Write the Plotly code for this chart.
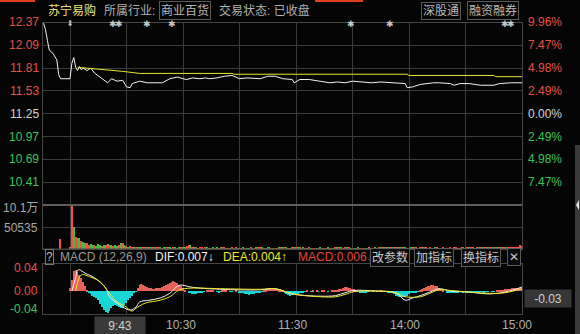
import plotly.graph_objects as go

W, H = 580, 334
def px(x): return x / W
def py(y): return 1 - y / H

FONT = "Liberation Sans, Noto Sans CJK SC, sans-serif"
RED, GREEN, WHITE, GREY = "#e2504a", "#3fc25c", "#d2d2d2", "#a8a8a8"
GRID = "#3b3b3b"

# ---------------- data (minutes since 09:30 on the trading clock; negative = call auction) -------------
price_t = [-14, -13, -12, -11, -9, -7, -6, -5, 0, 1, 2, 3, 4, 5, 6, 7, 9, 11, 13, 17, 20, 22, 25, 28, 30, 32,
           33, 37, 41, 44, 49, 53, 57, 60, 62, 65, 69, 72, 74, 78, 82, 86, 90, 94, 98, 101, 105, 109, 113, 118,
           119, 122, 127, 133, 138, 142, 146, 150, 154, 160, 165, 170, 175, 178, 179, 182, 186, 189, 193, 196,
           202, 204, 207, 212, 218, 225, 228, 234, 240]
price = [12.36, 12.28, 12.15, 12.03, 11.99, 11.91, 11.73, 11.68, 11.68, 11.87, 11.94, 11.82, 11.78, 11.83,
         11.79, 11.81, 11.78, 11.81, 11.75, 11.68, 11.63, 11.68, 11.65, 11.66, 11.58, 11.57, 11.62, 11.65,
         11.63, 11.63, 11.63, 11.68, 11.70, 11.68, 11.67, 11.69, 11.68, 11.69, 11.68, 11.69, 11.71, 11.72,
         11.68, 11.69, 11.68, 11.68, 11.71, 11.71, 11.68, 11.67, 11.63, 11.67, 11.67, 11.65, 11.63, 11.64,
         11.63, 11.65, 11.64, 11.63, 11.64, 11.63, 11.62, 11.62, 11.57, 11.58, 11.61, 11.62, 11.63, 11.63,
         11.62, 11.60, 11.62, 11.62, 11.60, 11.60, 11.62, 11.63, 11.63]

avg_t = [4, 15, 28, 37, 86, 87, 179, 180, 225, 226, 240]
avg_price = [11.82, 11.80, 11.77, 11.745, 11.745, 11.735, 11.735, 11.72, 11.72, 11.705, 11.705]

prev_close = 11.25
price_ticks = [12.37, 12.09, 11.81, 11.53, 11.25, 10.97, 10.69, 10.41]
pct_labels = ["9.96%", "7.47%", "4.98%", "2.49%", "0.00%", "2.49%", "4.98%", "7.47%"]

# volume in thousand shares, one per minute 0..240; plus the auction print
auction_t, auction_vol = [-5], [23.0]
volume_k = [
    3.0, 101.07, 50.5, 27.0, 25.0, 25.0, 18.0, 16.0, 14.0, 14.0, 9.0, 11.5, 9.0, 10.0, 8.0, 11.0, 9.5, 8.0, 10.0, 9.0,
    11.0, 8.5, 9.0, 7.5, 10.0, 8.0, 9.0, 14.0, 13.0, 9.0, 7.0, 5.5, 6.0, 4.5, 5.0, 4.0, 3.5, 4.5, 3.0, 3.5,
    3.2, 2.8, 4.1, 3.5, 2.6, 3.0, 2.4, 3.8, 2.9, 2.2, 3.1, 2.7, 3.4, 2.5, 2.0, 2.9, 3.6, 2.3, 2.8, 3.0,
    2.6, 4.5, 6.0, 8.5, 9.0, 5.2, 3.4, 2.5, 2.1, 2.8, 2.4, 1.9, 2.6, 3.1, 2.2, 1.8, 2.4, 2.0, 2.7, 2.3,
    2.9, 3.3, 2.5, 2.0, 1.7, 2.2, 2.6, 1.9, 2.4, 2.1, 1.8, 2.3, 2.7, 2.0, 1.6, 2.2, 2.5, 1.9, 2.1, 2.8,
    2.4, 3.0, 2.6, 2.2, 1.8, 2.5, 2.9, 2.1, 1.7, 2.3, 2.0, 2.6, 3.2, 2.4, 2.8, 3.5, 2.2, 1.9, 2.6, 4.0,
    3.6, 2.8, 2.4, 2.0, 2.5, 1.8, 2.2, 2.7, 1.9, 2.3, 2.0, 1.6, 2.1, 2.5, 1.8, 2.2, 1.9, 2.4, 2.0, 1.7,
    2.3, 2.6, 2.9, 3.1, 2.5, 2.0, 2.8, 3.3, 2.4, 2.1, 1.9, 2.2, 1.8, 2.5, 2.0, 1.7, 2.3, 2.1, 1.9, 2.6,
    2.2, 1.8, 2.4, 2.0, 2.6, 2.9, 3.2, 2.7, 3.5, 3.9, 3.1, 2.6, 2.8, 3.0, 3.6, 4.2, 3.4, 2.9, 2.5, 2.2,
    2.0, 2.4, 2.7, 3.1, 2.6, 2.2, 2.9, 3.3, 2.8, 2.4, 2.1, 2.6, 2.3, 2.0, 2.5, 2.8, 2.2, 1.9, 2.4, 2.1,
    1.8, 2.3, 2.6, 2.0, 2.4, 2.9, 2.2, 1.9, 2.5, 2.7, 2.1, 2.4, 2.8, 3.0, 2.6, 2.2, 2.5, 2.9, 3.2, 2.7,
    2.4, 2.9, 3.3, 2.8, 3.5, 3.1, 2.7, 3.4, 3.8, 3.2, 2.9, 3.6, 4.1, 3.5, 3.9, 4.4, 3.7, 4.8, 5.5, 9.0, 6.0]
# r = up minute, g = down minute
volume_dir = ("rrgrrgrggrrggrgggrgrgrgrggrgrgrgrrgrg"
              "rgrrgrgrgrrgrgrggrrgrgrggrrgrgrgrrgrggrg"
              "rgrgrrgrgrgrrgrgrggrgrgrrgrgrgrgrrgrgrgr"
              "grgrgrrgrgrgrrgrgrgrgrggrgrgrrgrgrgrgrrg"
              "rgrgrgrrgrgrgrgrgrrgrgrggrgrgrgrrgrgrgrr"
              "grgrgrgrrgrgrgrgrrgrgrgrgrrgrrgrgrrgrrrrrrrr")

macd_hist = [
    0.005, 0.020, 0.034, 0.036, 0.033, 0.028, 0.022, 0.016, 0.008, 0.002,
    -0.004, -0.006, -0.008, -0.010, -0.012, -0.016, -0.022, -0.028, -0.033, -0.036,
    -0.038, -0.035, -0.030, -0.026, -0.024, -0.026, -0.028, -0.030, -0.030, -0.025,
    -0.020, -0.016, -0.012, -0.008, -0.004, -0.001, 0.006, 0.010, 0.012, 0.011,
    0.009, 0.007, 0.006, 0.005, 0.004, 0.004, 0.005, 0.006, 0.006, 0.007,
    0.008, 0.010, 0.012, 0.014, 0.016, 0.017, 0.016, 0.014, 0.011, 0.008,
    0.005, 0.002, 0.000, -0.002, -0.004, -0.005, -0.006, -0.005, -0.004, -0.003,
    -0.002, -0.001, 0.000, 0.001, 0.002, 0.002, 0.001, 0.000, -0.001, -0.002,
    -0.001, 0.001, 0.002, 0.001, 0.000, -0.001, -0.001, 0.000, 0.001, 0.000,
    -0.002, -0.003, -0.004, -0.005, -0.006, -0.007, -0.006, -0.006, -0.005, -0.004,
    -0.003, -0.002, -0.001, 0.002, 0.003, 0.004, 0.005, 0.005, 0.004, 0.005,
    0.004, 0.003, 0.002, 0.001, -0.003, -0.005, -0.007, -0.008, -0.007, -0.006,
    -0.006, -0.005, -0.004, -0.003, -0.002, -0.001, 0.001, 0.000, -0.001, 0.001,
    0.000, 0.001, -0.001, 0.000, 0.001, 0.001, 0.000, -0.001, 0.000, 0.001,
    0.001, 0.002, 0.002, 0.003, 0.004, 0.006, 0.007, 0.007, 0.006, 0.005,
    0.004, 0.003, 0.001, -0.001, -0.002, -0.003, -0.002, -0.002, -0.001, -0.001,
    0.000, 0.001, 0.000, -0.001, 0.000, 0.001, 0.000, -0.001, -0.001, -0.002,
    -0.002, -0.004, -0.006, -0.008, -0.009, -0.010, -0.011, -0.011, -0.010, -0.008,
    -0.006, -0.004, -0.003, -0.002, -0.002, -0.001, 0.001, 0.003, 0.005, 0.007,
    0.008, 0.009, 0.010, 0.010, 0.009, 0.008, 0.006, 0.004, 0.002, 0.000,
    -0.002, -0.003, -0.003, -0.004, -0.003, -0.002, -0.002, -0.001, -0.001, -0.002,
    -0.001, -0.002, -0.001, -0.002, -0.002, -0.001, -0.001, -0.002, -0.001, -0.001,
    -0.002, -0.001, -0.001, 0.000, -0.001, -0.001, 0.000, 0.001, 0.001, 0.002,
    0.002, 0.003, 0.003, 0.004, 0.004, 0.005, 0.005, 0.006, 0.006, 0.006, 0.006]

dif_t = [1, 3, 4, 5, 8, 13, 19, 21, 25, 28, 32, 35, 37, 42, 48, 53, 58, 64, 69, 80, 90, 101, 109, 117, 122,
         133, 141, 146, 151, 162, 173, 178, 182, 186, 191, 196, 202, 212, 223, 231, 240]
dif = [0.000, 0.023, 0.036, 0.037, 0.031, 0.023, 0.005, -0.010, -0.021, -0.028, -0.033, -0.028, -0.019, -0.016,
       -0.012, -0.004, 0.010, 0.007, 0.005, 0.003, 0.002, 0.002, 0.004, -0.004, -0.007, -0.009, -0.008, -0.003,
       0.001, 0.000, -0.003, -0.016, -0.012, -0.008, -0.002, 0.004, 0.000, -0.002, -0.005, -0.002, 0.007]
dea_t = [3, 6, 11, 16, 21, 25, 29, 33, 35, 40, 48, 53, 58, 64, 80, 101, 109, 117, 122, 133, 141, 146, 151,
         162, 173, 178, 186, 191, 196, 202, 212, 223, 231, 240]
dea = [0.000, 0.028, 0.024, 0.016, -0.004, -0.019, -0.026, -0.035, -0.030, -0.021, -0.016, -0.010, 0.002,
       0.005, 0.004, 0.003, 0.004, -0.004, -0.007, -0.010, -0.010, -0.006, -0.001, 0.000, -0.003, -0.010,
       -0.010, -0.004, 0.002, 0.001, -0.002, -0.004, -0.003, 0.004]

event_t = [23, 26, 41, 54, 149, 170, 231, 234]
arrow_t = [0]

time_ticks = [-15, 60, 120, 180, 240]
time_labels = ["06/24", "10:30", "11:30", "14:00", "15:00"]
cursor_t, cursor_label = 13, "9:43"

# ---------------- figure -------------
minutes = list(range(0, 241))
fig = go.Figure()

fig.add_trace(go.Scatter(x=price_t, y=price, mode="lines", line=dict(color="#f2f2f2", width=1),
                         xaxis="x", yaxis="y", hoverinfo="skip"))
fig.add_trace(go.Scatter(x=avg_t, y=avg_price, mode="lines", line=dict(color="#e6e62e", width=1),
                         xaxis="x", yaxis="y", hoverinfo="skip"))

vol_colors = ["#ff4a4a" if d == "r" else "#3cc23c" for d in volume_dir[:len(volume_k)]]
fig.add_trace(go.Bar(x=auction_t + minutes, y=auction_vol + volume_k, width=0.7,
                     marker=dict(color=["#ff4a4a"] + vol_colors, line=dict(width=0)),
                     xaxis="x2", yaxis="y2", hoverinfo="skip"))

hist_colors = ["#e8625a" if v >= 0 else "#19d6d6" for v in macd_hist]
fig.add_trace(go.Bar(x=minutes, y=macd_hist, width=0.7, marker=dict(color=hist_colors, line=dict(width=0)),
                     xaxis="x3", yaxis="y3", hoverinfo="skip"))
fig.add_trace(go.Scatter(x=dif_t, y=dif, mode="lines", line=dict(color="#f4f4f4", width=1, shape="spline"),
                         xaxis="x3", yaxis="y3", hoverinfo="skip"))
fig.add_trace(go.Scatter(x=dea_t, y=dea, mode="lines", line=dict(color="#ecec2a", width=1, shape="spline"),
                         xaxis="x3", yaxis="y3", hoverinfo="skip"))

XR = [-14.34, 240]
xcommon = dict(range=XR, tickvals=list(range(0, 211, 30)), showticklabels=False, showgrid=True,
               gridcolor=GRID, gridwidth=1, zeroline=False, showline=True, linecolor="#464646",
               mirror=True, domain=[px(43), px(522)], fixedrange=True)
ycommon = dict(showticklabels=False, showgrid=True, gridcolor=GRID, zeroline=False, showline=True,
               linecolor="#464646", mirror=True, fixedrange=True)

fig.update_layout(
    width=W, height=H, margin=dict(l=0, r=0, t=0, b=0),
    paper_bgcolor="#050505", plot_bgcolor="#050505", showlegend=False, bargap=0,
    font=dict(family=FONT, size=12, color=GREY),
    xaxis=dict(**xcommon, anchor="y"),
    xaxis2=dict(**xcommon, anchor="y2", matches="x"),
    xaxis3=dict(**xcommon, anchor="y3", matches="x"),
    yaxis=dict(**ycommon, range=[prev_close - 1.12, prev_close + 1.12], tickvals=price_ticks[1:],
               domain=[py(205), py(22.5)], anchor="x"),
    yaxis2=dict(**ycommon, range=[0, 101.07], tickvals=[50.535], domain=[py(249), py(205)], anchor="x2"),
    yaxis3=dict(**ycommon, range=[-0.040, 0.047], tickvals=[], domain=[py(314), py(264)], anchor="x3"),
)

ann = []
def text(x, y, s, color, size=12, xanchor="left", **kw):
    ann.append(dict(x=px(x), y=py(y), xref="paper", yref="paper", text=s, showarrow=False,
                    xanchor=xanchor, yanchor="middle", font=dict(color=color, size=size, family=FONT), **kw))

# event markers on the top edge
for t in event_t:
    ann.append(dict(x=t, y=py(23), xref="x", yref="paper", text="✱", showarrow=False, xanchor="center",
                    yanchor="middle", height=7, font=dict(color="#c8c8c8", size=9, family="DejaVu Sans")))
for t in arrow_t:
    ann.append(dict(x=t, y=py(23), xref="x", yref="paper", text="⬇", showarrow=False, xanchor="center",
                    yanchor="middle", height=7, font=dict(color="#c8c8c8", size=8, family="DejaVu Sans")))

# price axis labels
for v, p in zip(price_ticks, pct_labels):
    c = RED if v > prev_close + 1e-9 else (GREEN if v < prev_close - 1e-9 else WHITE)
    ann.append(dict(x=px(41), y=v, xref="paper", yref="y", text=f"{v:.2f}", showarrow=False, xanchor="right",
                    yanchor="middle", font=dict(color=c, size=12, family=FONT)))
    ann.append(dict(x=px(526), y=v, xref="paper", yref="y", text=p, showarrow=False, xanchor="left",
                    yanchor="middle", font=dict(color=c, size=12, family=FONT)))

text(40, 208, "10.1万", GREY, xanchor="right")
text(40, 228, "50535", GREY, xanchor="right")
text(40, 268, "0.04", RED, xanchor="right")
text(40, 291, "0.00", RED, xanchor="right")
text(40, 309, "-0.04", GREEN, xanchor="right")

# time axis labels
for t, lab, sh in zip(time_ticks, time_labels, [1, -2, -4, -4, -5]):
    ann.append(dict(x=t, y=py(325), xref="x3", yref="paper", text=lab, showarrow=False, xanchor="center",
                    yanchor="middle", xshift=sh, font=dict(color="#b0b0b0", size=12, family=FONT)))
ann.append(dict(x=cursor_t, y=py(325), xref="x3", yref="paper", text=cursor_label, showarrow=False,
                xanchor="left", yanchor="middle", width=48, height=15, bgcolor="#3a3a3a",
                font=dict(color="#d0d0d0", size=12, family=FONT)))

# header
text(46, 11, "苏宁易购", "#efe27a")
text(102, 11, "所属行业:", "#b0b0b0")
text(159, 11, "商业百货", "#b8b8b8", bordercolor="#5a5a5a", borderwidth=1, borderpad=1)
text(217, 11, "交易状态: 已收盘", "#b0b0b0")
text(421, 11, "深股通", "#b8b8b8", bordercolor="#5a5a5a", borderwidth=1, borderpad=1)
text(467, 11, "融资融券", "#b8b8b8", bordercolor="#5a5a5a", borderwidth=1, borderpad=1)

# MACD header
text(45, 257, "?", "#bdbdbd", bordercolor="#777", borderwidth=1, borderpad=0)
text(58, 257, "MACD (12,26,9)", "#9a9a9a")
text(153, 257, "DIF:0.007↓", "#f2f2f2")
text(221, 257, "DEA:0.004↑", "#ecec2a")
text(296, 257, "MACD:0.006↓", "#e2453f")
text(370, 257, "改参数", "#c8c8c8", bordercolor="#5a5a5a", borderwidth=1, borderpad=1, bgcolor="#0b0b0b")
text(414, 257, "加指标", "#c8c8c8", bordercolor="#5a5a5a", borderwidth=1, borderpad=1, bgcolor="#0b0b0b")
text(461, 257, "换指标", "#c8c8c8", bordercolor="#5a5a5a", borderwidth=1, borderpad=1, bgcolor="#0b0b0b")
text(507, 257, "✕", "#c8c8c8", bordercolor="#5a5a5a", borderwidth=1, borderpad=1, bgcolor="#0b0b0b")

# last value tag
text(524, 298, "-0.03", "#cfcfcf", width=44, height=15, bgcolor="#363636", align="center")

fig.update_layout(annotations=ann)

shapes = [
    dict(type="line", xref="paper", yref="paper", x0=px(43), x1=px(522), y0=py(205), y1=py(205),
         line=dict(color="#5e5e5e", width=2)),
    dict(type="line", xref="paper", yref="paper", x0=px(43), x1=px(522), y0=py(249), y1=py(249),
         line=dict(color="#464646", width=1)),
    dict(type="rect", xref="paper", yref="paper", x0=0, x1=px(35), y0=py(2), y1=1,
         fillcolor="#e0401e", line=dict(width=0)),
    dict(type="rect", xref="paper", yref="paper", x0=px(315), x1=px(363), y0=py(2), y1=1,
         fillcolor="#e0401e", line=dict(width=0)),
    dict(type="rect", xref="paper", yref="paper", x0=px(575), x1=1, y0=0, y1=py(145),
         fillcolor="#3a3a3a", line=dict(width=0)),
    dict(type="path", xref="paper", yref="paper",
         path=f"M {px(576)},{py(205)} L {px(579)},{py(200)} L {px(579)},{py(210)} Z",
         fillcolor="#e8e8e8", line=dict(width=0)),
]
fig.update_layout(shapes=shapes)

fig.write_html("out.html")
